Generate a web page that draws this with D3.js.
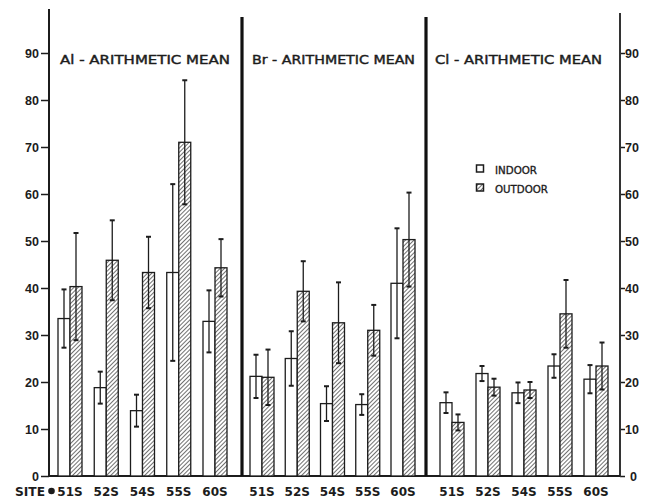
<!DOCTYPE html>
<html>
<head>
<meta charset="utf-8">
<script src="https://cdn.jsdelivr.net/npm/d3@7"></script>
<style>
  html, body { margin: 0; padding: 0; background: #fff; }
  svg { display: block; font-family: "DejaVu Sans", sans-serif; }
  text { fill: #1c1c1c; }
</style>
</head>
<body>
<svg id="chart" width="648" height="499"></svg>
<script>
// site labels shared by all three panels
const sites = ["51S", "52S", "54S", "55S", "60S"];
const panelTitles = ["Al - ARITHMETIC MEAN", "Br - ARITHMETIC MEAN", "Cl - ARITHMETIC MEAN"];
const yTicks = [0, 10, 20, 30, 40, 50, 60, 70, 80, 90];

// Al
const alIndoor = [33.5, 18.8, 13.9, 43.3, 32.9];
const alIndoorErr = [6.2, 3.4, 3.4, 18.8, 6.6];
const alOutdoor = [40.3, 45.9, 43.3, 71.0, 44.3];
const alOutdoorErr = [11.4, 8.5, 7.6, 13.2, 6.1];

// Br
const brIndoor = [21.2, 25.0, 15.4, 15.2, 41.0];
const brIndoorErr = [4.6, 5.8, 3.7, 2.2, 11.7];
const brOutdoor = [21.0, 39.3, 32.6, 31.0, 50.3];
const brOutdoorErr = [5.9, 6.4, 8.6, 5.4, 10.0];

// Cl
const clIndoor = [15.6, 21.8, 17.7, 23.4, 20.6];
const clIndoorErr = [2.2, 1.6, 2.2, 2.5, 3.0];
const clOutdoor = [11.4, 18.9, 18.3, 34.5, 23.4];
const clOutdoorErr = [1.7, 1.8, 1.7, 7.2, 5.0];

const panelData = [
    { indoor: alIndoor, indoorErr: alIndoorErr, outdoor: alOutdoor, outdoorErr: alOutdoorErr },
    { indoor: brIndoor, indoorErr: brIndoorErr, outdoor: brOutdoor, outdoorErr: brOutdoorErr },
    { indoor: clIndoor, indoorErr: clIndoorErr, outdoor: clOutdoor, outdoorErr: clOutdoorErr }
];

// layout
const AXIS_L = 49, AXIS_R = 620, BASE = 476;
const panelBounds = [[49, 242], [242, 426], [426, 620]];
const groupRanges = [[70, 215], [262, 403], [452, 596]];
const titleLayout = [[60, 170], [252, 163], [435, 167]];
const BAR_W = 12;
const INK = "#1c1c1c";

const svg = d3.select("#chart");

const y = d3.scaleLinear().domain([0, 90]).range([BASE, 53]);

// hatch pattern for outdoor bars
const defs = svg.append("defs");
const pat = defs.append("pattern")
    .attr("id", "hatch")
    .attr("patternUnits", "userSpaceOnUse")
    .attr("width", 3).attr("height", 3)
    .attr("patternTransform", "rotate(45)");
pat.append("rect").attr("width", 3).attr("height", 3).attr("fill", "#fff");
pat.append("line")
    .attr("x1", 0).attr("y1", 0).attr("x2", 0).attr("y2", 3)
    .attr("stroke", "#333").attr("stroke-width", 1.4);

// left axis
const leftAxis = d3.axisLeft(y).tickValues(yTicks).tickSize(8).tickPadding(2).tickFormat(d3.format("d"));
const gl = svg.append("g").attr("transform", `translate(${AXIS_L},0)`).call(leftAxis);
gl.select(".domain").remove();
gl.selectAll(".tick line").attr("stroke", INK).attr("stroke-width", 1.5);
gl.selectAll(".tick text").attr("font-size", 12.5).attr("font-weight", "bold").attr("fill", INK);
svg.append("line").attr("x1", AXIS_L).attr("x2", AXIS_L).attr("y1", 9).attr("y2", BASE + 1)
    .attr("stroke", INK).attr("stroke-width", 2);

// right axis
const rightAxis = d3.axisRight(y).tickValues(yTicks).tickSize(5).tickPadding(0).tickFormat(d3.format("d"));
const gr = svg.append("g").attr("transform", `translate(${AXIS_R},0)`).call(rightAxis);
gr.select(".domain").remove();
gr.selectAll(".tick line").attr("stroke", INK).attr("stroke-width", 1.5);
gr.selectAll(".tick text").attr("font-size", 12.5).attr("font-weight", "bold").attr("fill", INK);
gr.selectAll(".tick").filter(d => d === 0).select("text").attr("x", 10);
svg.append("line").attr("x1", AXIS_R).attr("x2", AXIS_R).attr("y1", 13).attr("y2", BASE + 1)
    .attr("stroke", "#333").attr("stroke-width", 2);

// baseline
svg.append("line").attr("x1", AXIS_L).attr("x2", AXIS_R).attr("y1", BASE).attr("y2", BASE)
    .attr("stroke", INK).attr("stroke-width", 2);

// panel separators
[panelBounds[1][0], panelBounds[2][0]].forEach(px => {
    svg.append("line").attr("x1", px).attr("x2", px).attr("y1", 17).attr("y2", BASE)
        .attr("stroke", "#111").attr("stroke-width", 3.2);
});

function drawErr(g, cx, v, e) {
    g.append("line").attr("x1", cx).attr("x2", cx).attr("y1", y(v + e)).attr("y2", y(v - e))
        .attr("stroke", INK).attr("stroke-width", 1.3);
    [v + e, v - e].forEach(t => {
        g.append("line").attr("x1", cx - 2.5).attr("x2", cx + 2.5).attr("y1", y(t)).attr("y2", y(t))
            .attr("stroke", INK).attr("stroke-width", 2);
    });
}

panelData.forEach((pd, i) => {
    const x = d3.scalePoint().domain(sites).range(groupRanges[i]);
    const g = svg.append("g");

    sites.forEach((s, j) => {
        const cx = x(s);
        // indoor
        g.append("rect")
            .attr("x", cx - BAR_W).attr("y", y(pd.indoor[j]))
            .attr("width", BAR_W).attr("height", BASE - y(pd.indoor[j]))
            .attr("fill", "#fff").attr("stroke", INK).attr("stroke-width", 1.3);
        // outdoor
        g.append("rect")
            .attr("x", cx).attr("y", y(pd.outdoor[j]))
            .attr("width", BAR_W).attr("height", BASE - y(pd.outdoor[j]))
            .attr("fill", "url(#hatch)").attr("stroke", INK).attr("stroke-width", 1.3);
        drawErr(g, cx - BAR_W / 2, pd.indoor[j], pd.indoorErr[j]);
        drawErr(g, cx + BAR_W / 2, pd.outdoor[j], pd.outdoorErr[j]);

        g.append("text")
            .attr("x", cx).attr("y", 496)
            .attr("text-anchor", "middle")
            .attr("font-size", 12).attr("font-weight", "bold")
            .text(s);
    });

    svg.append("text")
        .attr("x", titleLayout[i][0]).attr("y", 64)
        .attr("textLength", titleLayout[i][1]).attr("lengthAdjust", "spacingAndGlyphs")
        .attr("font-size", 11.5)
        .attr("stroke", INK).attr("stroke-width", 0.4)
        .text(panelTitles[i]);
});

// SITE label
svg.append("text").attr("x", 15).attr("y", 496)
    .attr("font-size", 13).attr("font-weight", "bold")
    .attr("textLength", 30).attr("lengthAdjust", "spacingAndGlyphs")
    .text("SITE");
svg.append("circle").attr("cx", 51.5).attr("cy", 491).attr("r", 3.3).attr("fill", INK);

// legend
const legend = svg.append("g");
legend.append("rect").attr("x", 476.5).attr("y", 165).attr("width", 7).attr("height", 7)
    .attr("fill", "#fff").attr("stroke", INK).attr("stroke-width", 1.5);
legend.append("rect").attr("x", 476.5).attr("y", 184).attr("width", 7).attr("height", 7)
    .attr("fill", "url(#hatch)").attr("stroke", INK).attr("stroke-width", 1.5);
legend.append("text").attr("x", 495).attr("y", 173.5).attr("font-size", 11)
    .attr("stroke", INK).attr("stroke-width", 0.35)
    .attr("textLength", 42).attr("lengthAdjust", "spacingAndGlyphs").text("INDOOR");
legend.append("text").attr("x", 495).attr("y", 192.5).attr("font-size", 11)
    .attr("stroke", INK).attr("stroke-width", 0.35)
    .attr("textLength", 53).attr("lengthAdjust", "spacingAndGlyphs").text("OUTDOOR");
</script>
</body>
</html>
